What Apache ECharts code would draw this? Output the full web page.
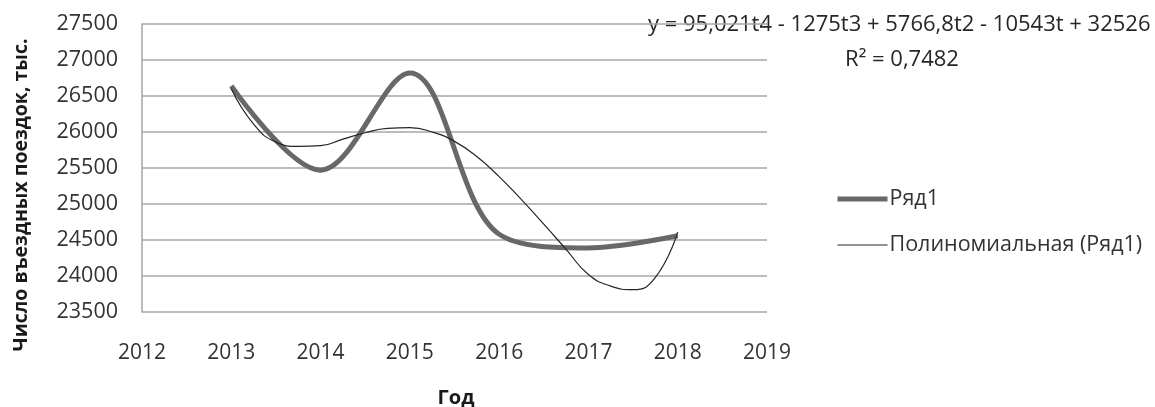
<!DOCTYPE html>
<html>
<head>
<meta charset="utf-8">
<script src="https://cdn.jsdelivr.net/npm/echarts@6/dist/echarts.min.js"></script>
<style>
html,body{margin:0;padding:0;background:#fff;}
#c{width:1155px;height:407px;}
</style>
</head>
<body>
<div id="c"></div>
<script>
// Data
const years = [2013, 2014, 2015, 2016, 2017, 2018];
const series1 = [26640, 25470, 26820, 24580, 24390, 24560];
// Polynomial trendline (quarter-year steps)
const trendX = [2013, 2013.25, 2013.5, 2013.75, 2014, 2014.25, 2014.5, 2014.75, 2015, 2015.25, 2015.5, 2015.75, 2016, 2016.25, 2016.5, 2016.75, 2017, 2017.25, 2017.5, 2017.75, 2018];
const trendY = [26600, 26110, 25860, 25800, 25810, 25900, 25990, 26050, 26060, 26000, 25870, 25660, 25380, 25060, 24720, 24370, 24020, 23860, 23810, 23980, 24610];
const yTicks = [23500, 24000, 24500, 25000, 25500, 26000, 26500, 27000, 27500];
const xTicks = [2012, 2013, 2014, 2015, 2016, 2017, 2018, 2019];
const seriesName = 'Ряд1';
const trendName = 'Полиномиальная (Ряд1)';
const equation = 'y = 95,021t4 - 1275t3 + 5766,8t2 - 10543t + 32526';
const r2 = 'R² = 0,7482';
const yTitle = 'Число въездных поездок, тыс.';
const xTitle = 'Год';

const font = 'Open Sans';
const chart = echarts.init(document.getElementById('c'), null, {renderer: 'canvas'});
chart.setOption({
  animation: false,
  backgroundColor: '#fff',
  grid: {left: 142, right: 388, top: 24, bottom: 95, containLabel: false},
  xAxis: {
    type: 'value',
    min: xTicks[0], max: xTicks[xTicks.length - 1], interval: 1,
    axisLine: {show: false},
    axisTick: {show: false},
    splitLine: {show: false},
    axisLabel: {color: '#333', fontFamily: font, fontSize: 21, margin: 31, formatter: v => String(v)}
  },
  yAxis: {
    type: 'value',
    min: yTicks[0], max: yTicks[yTicks.length - 1], interval: 500,
    axisLine: {show: true, lineStyle: {color: '#a6a6a6', width: 1.5}},
    axisTick: {show: false},
    splitLine: {show: true, lineStyle: {color: '#a6a6a6', width: 1.5}},
    axisLabel: {color: '#333', fontFamily: font, fontSize: 21.5, margin: 24, formatter: v => String(v)}
  },
  legend: {
    orient: 'vertical',
    left: 830, top: 183,
    itemWidth: 50, itemHeight: 14,
    itemGap: 24,
    itemStyle: {opacity: 0},
    textStyle: {color: '#333', fontFamily: font, fontSize: 21.5, padding: [0, 0, 0, -3]},
    data: [
      {name: seriesName, lineStyle: {width: 5, color: '#686868'}},
      {name: trendName, lineStyle: {width: 1.2, color: '#262626'}}
    ]
  },
  series: [
    {
      name: seriesName, type: 'line', smooth: 0.35, symbol: 'none',
      lineStyle: {color: '#686868', width: 5},
      itemStyle: {color: '#686868'},
      data: years.map((y, i) => [y, series1[i]])
    },
    {
      name: trendName, type: 'line', smooth: true, symbol: 'none',
      lineStyle: {color: '#262626', width: 1.2},
      itemStyle: {color: '#262626'},
      data: trendX.map((x, i) => [x, trendY[i]])
    }
  ],
  graphic: [
    {type: 'text', left: 648, top: 14, style: {text: equation, fill: '#262626', font: '22px "Open Sans"'}},
    {type: 'text', x: 902, y: 60, style: {text: r2, fill: '#262626', font: '22px "Open Sans"', align: 'center', verticalAlign: 'middle'}},
    {type: 'text', x: 456, y: 398, style: {text: xTitle, fill: '#1a1a1a', font: 'bold 20px "Open Sans"', align: 'center', verticalAlign: 'middle'}},
    {type: 'text', x: 21, y: 195, rotation: Math.PI / 2, style: {text: yTitle, fill: '#1a1a1a', font: 'bold 19.5px "Open Sans"', align: 'center', verticalAlign: 'middle'}}
  ]
});
</script>
</body>
</html>
